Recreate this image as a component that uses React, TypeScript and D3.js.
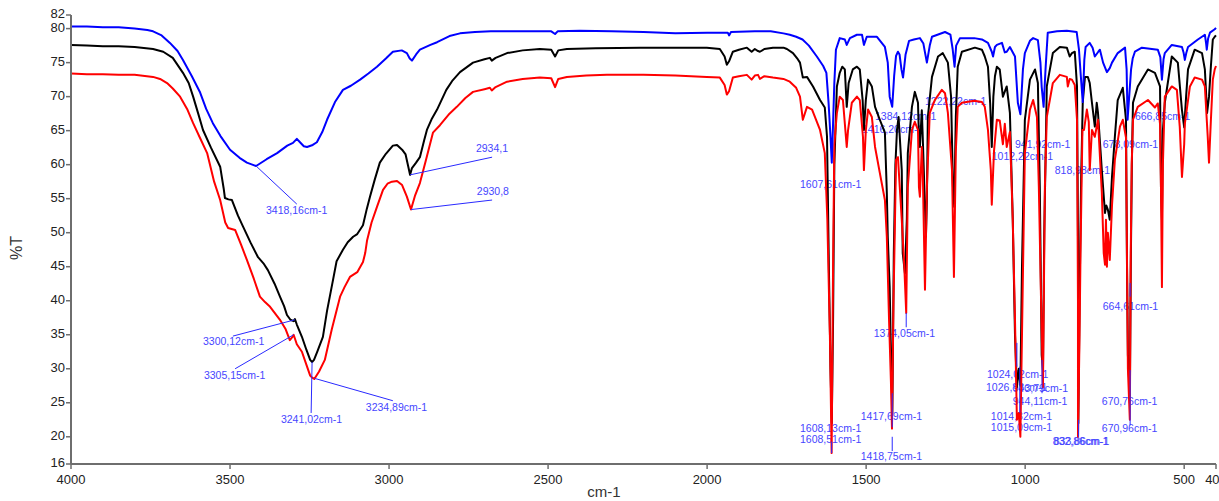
import React from "react";
import * as d3 from "d3";

const W = 1219;
const H = 501;

// [wavenumber cm-1, %T]
const blueData: [number, number][] = [
  [4000,80.3],[3950,80.3],[3900,80.2],[3850,80.2],[3800,80.0],[3760,79.8],[3742,79.6],[3715,79.0],[3689,77.9],[3665,76.7],[3648,75.4],[3620,73.0],[3594,70.6],[3575,68.2],[3554,66.1],[3530,64.2],[3500,62.2],[3470,61.0],[3447,60.3],[3430,60.0],[3418,59.8],[3385,60.8],[3352,61.7],[3320,62.8],[3302,63.2],[3290,63.8],[3280,63.3],[3268,62.7],[3258,62.6],[3240,62.9],[3227,63.3],[3210,64.8],[3195,66.6],[3170,69.2],[3145,71.0],[3120,71.6],[3091,72.5],[3065,73.4],[3038,74.4],[3010,75.6],[2988,76.6],[2960,76.8],[2944,76.4],[2935,75.6],[2928,75.3],[2915,76.2],[2903,76.9],[2870,77.6],[2849,78.0],[2810,78.9],[2777,79.3],[2730,79.5],[2680,79.6],[2600,79.6],[2490,79.6],[2478,79.2],[2470,79.6],[2400,79.7],[2300,79.6],[2200,79.5],[2100,79.3],[2000,79.4],[1935,79.4],[1931,79.0],[1925,79.5],[1850,79.6],[1800,79.6],[1760,79.3],[1740,79.1],[1720,78.8],[1700,78.4],[1680,77.5],[1655,75.9],[1635,74.5],[1625,73.5],[1618,69.0],[1612,64],[1608,60.3],[1604,66],[1600,72],[1595,76.9],[1583,78.6],[1567,78.4],[1561,77.6],[1551,78.6],[1529,79.1],[1513,79.1],[1507,77.6],[1498,78.8],[1466,78.8],[1441,77.3],[1432,75],[1426,70],[1418,68.5],[1412,73],[1406,76],[1400,76.6],[1395,76.2],[1389,74],[1384,72.8],[1380,74.5],[1376,76.2],[1365,78.2],[1350,78.4],[1331,78.6],[1320,77.8],[1315,76.5],[1309,75.0],[1300,77.5],[1293,78.8],[1252,79.5],[1235,79.1],[1228,77],[1222,74.4],[1217,77.5],[1205,78.6],[1160,78.6],[1136,78.4],[1117,77.9],[1105,76.6],[1101,75.9],[1095,77.3],[1089,77.6],[1073,77.9],[1064,76.5],[1058,76.6],[1048,77.3],[1032,75.9],[1023,69.1],[1015,67.4],[1007,74],[1001,76.4],[985,78.2],[975,78.6],[960,78.3],[952,75],[948,71.4],[942,68.5],[936,74],[929,79.4],[900,79.6],[869,79.7],[838,79.5],[831,77],[825,73],[819,69.2],[814,75.4],[810,77.3],[797,77.9],[788,77.2],[781,75.9],[770,76.6],[765,76.9],[755,75],[743,73.6],[734,74.2],[727,75],[709,76.4],[686,77.2],[681,74],[678,66.6],[673,70],[667,74],[662,75.6],[655,76.6],[633,77.2],[583,76.9],[575,75.8],[570,72.5],[565,75.5],[561,76.4],[539,77.6],[507,77.3],[502,76.5],[498,75.4],[493,76.5],[488,77.3],[457,78.4],[435,79.1],[431,77.8],[429,76.9],[425,78.5],[419,79.4],[404,79.9],[400,80.1]
];

const blackData: [number, number][] = [
  [4000,77.6],[3950,77.5],[3900,77.4],[3850,77.4],[3800,77.3],[3742,77.0],[3710,76.6],[3680,75.7],[3648,73.5],[3630,72],[3616,70],[3600,67.5],[3585,65.1],[3560,62.5],[3531,59.7],[3520,56.5],[3516,55.1],[3505,54.9],[3494,54.8],[3475,52.5],[3459,50.9],[3435,48.5],[3412,46.4],[3395,45.5],[3381,44.5],[3360,42.5],[3343,40.6],[3330,39.2],[3321,37.9],[3310,37.2],[3300,37.0],[3296,37.3],[3290,36.5],[3274,34.7],[3260,32.8],[3248,31.3],[3242,31.0],[3236,31.3],[3225,32.6],[3208,34.7],[3195,38.5],[3176,43.1],[3165,45.8],[3145,47.5],[3130,48.6],[3113,49.4],[3100,49.8],[3082,51.1],[3070,53.5],[3060,55.3],[3045,57.8],[3029,60.3],[3010,61.6],[2988,62.8],[2975,62.9],[2959,62.2],[2948,61.5],[2940,59.8],[2934,58.5],[2928,59.5],[2915,60.3],[2903,61.1],[2890,63.5],[2881,65.1],[2865,66.8],[2849,68.1],[2820,71.0],[2800,72.4],[2777,73.6],[2736,75.0],[2700,75.5],[2683,75.7],[2677,75.3],[2665,75.7],[2629,76.4],[2580,76.8],[2526,77.0],[2490,76.9],[2478,75.9],[2468,76.8],[2441,77.0],[2350,77.1],[2211,77.2],[2100,77.2],[2001,77.2],[1960,77.0],[1945,75.9],[1938,74.7],[1931,75.2],[1919,76.6],[1900,76.9],[1875,77.2],[1860,76.6],[1850,77.0],[1840,76.7],[1834,76.6],[1820,77.0],[1793,77.2],[1760,77.2],[1749,77.0],[1730,76.4],[1715,75.5],[1708,75.0],[1699,72.8],[1686,72.9],[1667,71.5],[1645,69.5],[1630,68.4],[1623,64.1],[1617,44.5],[1612,30],[1608,22.0],[1604,37],[1600,60],[1592,71.5],[1583,73.5],[1575,74.4],[1567,74],[1561,68.5],[1555,72],[1542,74],[1529,74.4],[1520,74],[1511,69.5],[1507,65.1],[1501,69.5],[1494,72.5],[1482,71.5],[1472,68.5],[1457,66.6],[1441,64.7],[1435,55.9],[1432,49.4],[1426,42],[1422,32.3],[1417.7,23.5],[1413,47],[1408,60],[1403,65.1],[1398,67],[1388,59.2],[1385,47],[1378,44],[1372,52],[1369,61.7],[1356,68.5],[1347,70.7],[1337,69.1],[1334,64.1],[1331,62.6],[1325,68],[1322,64],[1312,49.4],[1309,55],[1306,67],[1293,72.9],[1274,75.9],[1259,76.4],[1243,75],[1233,70],[1227,56.7],[1223,53.8],[1218,67],[1212,74.4],[1199,76.6],[1158,77.2],[1136,76.9],[1127,75.9],[1117,74.4],[1110,69],[1105,62.6],[1100,70],[1095,73],[1089,74.4],[1080,74],[1070,70],[1058,71.5],[1048,67.6],[1039,51.9],[1032,35],[1026,27.3],[1020,30],[1015,27.5],[1010,45],[1001,66.6],[985,72.5],[969,74],[960,72],[954,56.7],[948,32],[944,29.8],[940,50],[932,71.5],[913,76.4],[891,77.3],[869,77.2],[860,75.9],[853,76.4],[844,76.6],[837,71.5],[834,50],[832.9,22],[829,40],[824,58],[819,69.1],[812,72.9],[803,72.9],[797,72],[790,69.1],[781,65.6],[775,69.1],[771,67.6],[759,59.2],[749,52.9],[745,54],[740,53.4],[734,51.9],[727,58.2],[718,64.1],[709,69.5],[693,71.3],[683,66.6],[680,46],[677,32],[670.8,26],[668,45],[664.6,60],[661,69.1],[646,71.5],[614,74],[592,73.5],[576,71.5],[573,56.7],[570,51.9],[567,65],[561,69.1],[539,75.9],[520,75],[507,68],[500,65.5],[494,70],[488,74],[467,76.9],[444,76.4],[435,74],[428,67.6],[422,70],[416,74.5],[410,78.4],[404,78.8],[400,79]
];

const redData: [number, number][] = [
  [4000,73.4],[3950,73.3],[3900,73.3],[3850,73.2],[3800,73.2],[3742,72.9],[3720,72.6],[3698,72.0],[3680,71.2],[3657,70],[3635,68.2],[3616,66.1],[3595,64],[3572,61.7],[3550,57.5],[3531,54.8],[3515,51.5],[3506,50.7],[3484,50.4],[3465,48.2],[3447,46],[3425,43.2],[3406,40.6],[3390,39.8],[3374,39.1],[3343,37.2],[3325,35.8],[3312,34.2],[3305,34.6],[3300,35.0],[3290,33.6],[3274,32.5],[3260,30.6],[3248,29.0],[3242,28.7],[3235,28.5],[3220,29.6],[3202,31.3],[3180,35.8],[3154,40.6],[3140,42.0],[3123,43.5],[3100,44.2],[3082,45.7],[3075,47.0],[3069,48.9],[3055,51.5],[3038,53.8],[3019,56.3],[3005,57.2],[2991,57.5],[2975,57.6],[2959,57.0],[2944,55.3],[2931,53.4],[2918,55.5],[2903,57.3],[2885,60.5],[2862,64.7],[2840,65.8],[2810,67.5],[2787,68.5],[2760,69.8],[2736,70.7],[2700,71.1],[2683,71.3],[2677,70.9],[2665,71.4],[2629,72.2],[2580,72.6],[2526,72.8],[2490,72.7],[2478,71.4],[2468,72.6],[2441,72.9],[2380,73.1],[2315,73.2],[2200,73.2],[2100,73.1],[2001,72.9],[1960,72.8],[1945,71.7],[1938,70.3],[1931,70.8],[1919,72.8],[1900,73.0],[1875,73.2],[1860,72.5],[1850,73.1],[1840,73.2],[1834,72.6],[1820,73.0],[1793,72.8],[1760,72.6],[1740,72.2],[1720,71.3],[1708,70],[1699,66.6],[1686,68.5],[1670,68.1],[1645,65.1],[1630,61.7],[1622,52],[1614,35],[1608.5,17.6],[1604,45],[1600,63],[1592,67.6],[1583,70],[1573,69.5],[1561,62.6],[1557,65],[1545,69.1],[1529,70],[1520,69.5],[1510,64.1],[1507,59.2],[1501,65],[1494,68.1],[1482,67],[1472,62.6],[1457,58.8],[1441,54.8],[1435,49.4],[1428,37.2],[1422,28],[1418.75,21.2],[1414,40],[1410,50],[1406,60.7],[1400,61.1],[1388,51.9],[1380,45],[1374,38.2],[1369,56.7],[1356,65.1],[1347,66.3],[1337,65.1],[1334,56.7],[1331,55.3],[1325,62.6],[1322,59.2],[1315,41.6],[1309,56.7],[1300,67.6],[1284,69.5],[1262,71],[1252,70.5],[1243,67.6],[1230,59.2],[1224,43.5],[1218,62],[1212,68.5],[1199,69.1],[1160,69.4],[1136,69.2],[1127,68.5],[1117,65.1],[1108,59.2],[1105,54.1],[1098,62],[1089,66.6],[1080,66.5],[1070,63],[1064,66],[1058,62.6],[1048,64.8],[1039,51.9],[1032,37.2],[1026,22.5],[1020,23.5],[1015.1,20.0],[1010,35],[1006,47],[1001,61.7],[985,68.1],[975,69.5],[963,67],[957,56.7],[950,40],[944.1,27.3],[938,56.7],[932,67],[913,72],[891,73.2],[869,72.9],[866,71.5],[860,72.6],[853,72.5],[844,71.7],[837,66.6],[834,40],[833.9,20],[829,35],[826,47],[820,65.1],[815,65.1],[806,68.1],[800,66.3],[797,59.2],[790,65.1],[781,64.1],[771,66.6],[759,55.9],[753,47],[749,45.3],[746,51.9],[743,45],[740,50],[734,46],[727,54],[718,60.7],[702,65.6],[693,66.6],[683,64],[680,47],[677,30],[670.96,22.5],[668,47],[665,60],[661,66.6],[646,68.5],[614,69.5],[592,68.4],[583,69],[576,66],[573,56.7],[570,42],[567,60],[561,70],[539,71.5],[523,71],[514,65.6],[507,58.2],[500,63],[498,66],[482,71.5],[467,72.8],[444,72.5],[435,71.5],[426,64.1],[422,60.3],[416,66.6],[410,72.5],[404,74],[400,74.5]
];

const xTicks = [4000, 3500, 3000, 2500, 2000, 1500, 1000, 500, 400];
const yTicks = [82, 80, 75, 70, 65, 60, 55, 50, 45, 40, 35, 30, 25, 20, 16];

// peak labels: text, wavenumber of text start, %T of text middle
const peakLabels: [string, number, number][] = [
  ["3418,16cm-1", 3387, 53.2],
  ["2934,1", 2727, 62.3],
  ["2930,8", 2724, 56.0],
  ["3300,12cm-1", 3585, 33.9],
  ["3305,15cm-1", 3582, 28.9],
  ["3241,02cm-1", 3340, 22.5],
  ["3234,89cm-1", 3073, 24.2],
  ["1607,61cm-1", 1708, 57.0],
  ["1384,12cm-1", 1472, 67.0],
  ["1416,20cm-1", 1513, 65.1],
  ["1222,22cm-1", 1315, 69.2],
  ["941,92cm-1", 1032, 62.9],
  ["1012,22cm-1", 1105, 61.1],
  ["818,98cm-1", 907, 59.1],
  ["678,09cm-1", 756, 62.9],
  ["666,85cm-1", 655, 67.0],
  ["1374,05cm-1", 1476, 35.1],
  ["1608,13cm-1", 1708, 21.1],
  ["1608,51cm-1", 1708, 19.5],
  ["1417,69cm-1", 1517, 22.9],
  ["1418,75cm-1", 1517, 17.0],
  ["1024,02cm-1", 1120, 29.1],
  ["1026,83cm-1", 1123, 27.2],
  ["943,79cm-1", 1039, 27.0],
  ["944,11cm-1", 1039, 25.1],
  ["1014,32cm-1", 1108, 22.9],
  ["1015,09cm-1", 1108, 21.3],
  ["832,86cm-1", 913, 19.2],
  ["833,86cm-1", 910, 19.2],
  ["664,61cm-1", 756, 39.1],
  ["670,76cm-1", 759, 25.1],
  ["670,96cm-1", 759, 21.1],
];

// leader lines: [w1, T1, w2, T2]
const leaders: [number, number, number, number][] = [
  [3418, 59.8, 3290, 54.2],
  [2934, 58.5, 2676, 61.1],
  [2931, 53.4, 2676, 54.8],
  [3296, 37.2, 3491, 34.8],
  [3300, 35.0, 3484, 30.0],
  [3242, 31.0, 3245, 23.5],
  [3235, 28.6, 2988, 25.3],
  [1374, 38.2, 1374, 36.1],
  [1608.5, 19.3, 1608.5, 17.6],
  [1418, 26.4, 1418, 21.4],
  [1418, 20.0, 1418, 17.9],
  [1026, 33.8, 1026, 30.3],
  [1017, 30.3, 1017, 23.5],
  [947, 31.3, 947, 26.4],
  [832, 22.5, 832, 20.0],
  [670, 42.6, 670, 40.6],
  [670, 29.8, 670, 21.7],
];

const series = [
  { name: "black", data: blackData, color: "#000000" },
  { name: "red", data: redData, color: "#ff0000" },
  { name: "blue", data: blueData, color: "#0000ff" },
];

export default function App() {
  const left = 71, right = 1216, top = 15, bottom = 464;
  const x = d3.scaleLinear().domain([4000, 400]).range([left, right]);
  const y = d3.scaleLinear().domain([16, 82]).range([bottom, top]);
  const line = d3.line<[number, number]>().x((d) => x(d[0])).y((d) => y(d[1]));
  const font = "'Liberation Sans', Arial, sans-serif";
  const axisColor = "#6e6e6e";
  const labelColor = "#4646ff";

  return (
    <svg width={W} height={H} style={{ position: "absolute", left: 0, top: 0, background: "#fff" }}>
      <rect x={0} y={0} width={W} height={H} fill="#fff" />
      {peakLabels.map(([t, w, v], i) => (
        <text key={"l" + i} x={x(w)} y={y(v)} fontFamily={font} fontSize={10.5} fill={labelColor} dominantBaseline="middle">
          {t}
        </text>
      ))}
      {series.map((s) => (
        <path key={s.name} d={line(s.data) || ""} fill="none" stroke={s.color} strokeWidth={2} strokeLinejoin="round" />
      ))}
      {leaders.map(([w1, t1, w2, t2], i) => (
        <line key={"ld" + i} x1={x(w1)} y1={y(t1)} x2={x(w2)} y2={y(t2)} stroke="#2a2aff" strokeWidth={1} />
      ))}
      <line x1={left} y1={top} x2={left} y2={bottom} stroke={axisColor} strokeWidth={2} />
      <line x1={left} y1={bottom} x2={right} y2={bottom} stroke={axisColor} strokeWidth={2} />
      {yTicks.map((t) => (
        <g key={"yt" + t}>
          <line x1={left - 5} x2={left} y1={y(t)} y2={y(t)} stroke={axisColor} strokeWidth={1.5} />
          <text x={left - 6} y={y(t)} textAnchor="end" dominantBaseline="middle" fontFamily={font} fontSize={13} fill="#222">
            {t}
          </text>
        </g>
      ))}
      {xTicks.map((t) => (
        <g key={"xt" + t}>
          <line x1={x(t)} x2={x(t)} y1={bottom} y2={bottom + 5} stroke={axisColor} strokeWidth={1.5} />
          <text x={x(t)} y={bottom + 17} textAnchor="middle" dominantBaseline="middle" fontFamily={font} fontSize={13} fill="#222">
            {t}
          </text>
        </g>
      ))}
      <text x={604} y={493} textAnchor="middle" dominantBaseline="middle" fontFamily={font} fontSize={15} fill="#333">
        cm-1
      </text>
      <text transform="translate(18,248) rotate(-90)" textAnchor="middle" dominantBaseline="middle" fontFamily={font} fontSize={16} fill="#333">
        %T
      </text>
    </svg>
  );
}
